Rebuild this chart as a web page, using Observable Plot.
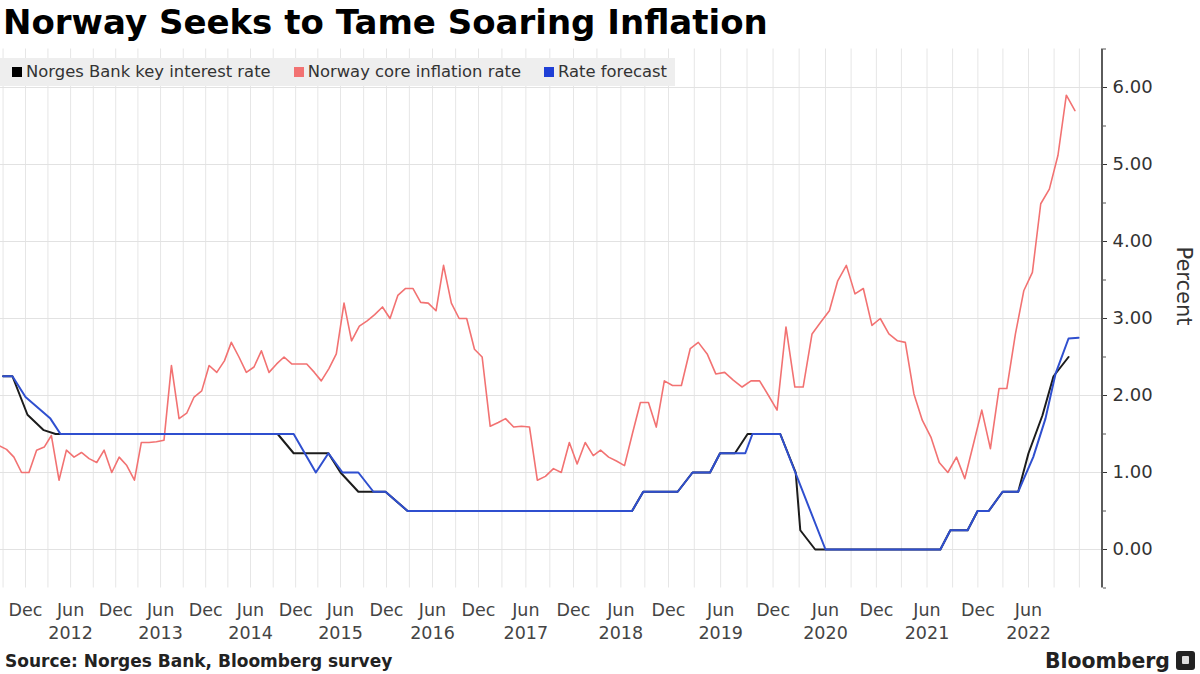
<!DOCTYPE html>
<html>
<head>
<meta charset="utf-8">
<script src="https://cdn.jsdelivr.net/npm/d3@7"></script>
<script src="https://cdn.jsdelivr.net/npm/@observablehq/plot@0.6"></script>
<style>
  html, body { margin: 0; padding: 0; background: #fff; }
  #wrap { position: relative; width: 1200px; height: 674px; overflow: hidden; font-family: "DejaVu Sans", sans-serif; background: #fff; }
  #title { position: absolute; left: 3px; top: 2px; font-size: 34px; font-weight: bold; line-height: 40px; color: #000; white-space: nowrap; }
  #chart { position: absolute; left: 0; top: 40px; }
  #legend { position: absolute; left: 0; top: 58px; width: 675px; height: 28px; background: #eeeeee; z-index: 2; display: flex; align-items: center; padding-left: 12px; box-sizing: border-box; }
  .item { display: flex; align-items: center; margin-right: 23px; }
  .sw { width: 10px; height: 10px; margin-right: 4px; }
  .lt { font-size: 16.4px; color: #333; white-space: nowrap; line-height: 28px; }
  #source { position: absolute; left: 5px; top: 650px; font-size: 17px; font-weight: bold; color: #222; line-height: 22px; white-space: nowrap; }
  #brand { position: absolute; left: 1045px; top: 648px; font-size: 20.4px; font-weight: bold; color: #222; line-height: 26px; white-space: nowrap; }
  #logo { position: absolute; left: 1176px; top: 651px; width: 19px; height: 19px; background: #222; border-radius: 3px; }
  #logo span { position: absolute; left: 6px; top: 5px; width: 7px; height: 8px; background: #fff; border-radius: 1px; opacity: 0.85; }
</style>
</head>
<body>
<div id="wrap">
  <div id="title">Norway Seeks to Tame Soaring Inflation</div>
  <div id="chart"></div>
  <div id="legend"></div>
  <div id="source">Source: Norges Bank, Bloomberg survey</div>
  <div id="brand">Bloomberg</div>
  <div id="logo"><span></span></div>
</div>
<script>
// ---------------- DATA ----------------
const seriesNames = ["Norges Bank key interest rate", "Norway core inflation rate", "Rate forecast"];
const seriesColors = ["#1c1c1c", "#f27272", "#2f4fcf"];

// Norges Bank key interest rate (vertices)
const keyRateDates = ["2011-09-01","2011-10-09","2011-12-09","2012-02-13","2012-04-01","2014-09-19","2014-11-23","2015-04-13","2015-06-01","2015-08-11","2015-11-27","2016-02-23","2018-07-14","2018-08-26","2019-01-02","2019-02-23","2019-04-25","2019-05-30","2019-07-21","2019-09-03","2019-12-26","2020-02-18","2020-03-05","2020-04-26","2021-07-19","2021-08-24","2021-10-25","2021-11-30","2022-01-09","2022-02-28","2022-04-25","2022-06-01","2022-07-21","2022-08-30","2022-10-23"];
const keyRateValues = [2.25,2.25,1.75,1.55,1.5,1.5,1.25,1.25,1.0,0.75,0.75,0.5,0.5,0.75,0.75,1.0,1.0,1.25,1.25,1.5,1.5,1.0,0.25,0,0,0.25,0.25,0.5,0.5,0.75,0.75,1.25,1.74,2.25,2.5];

// Rate forecast (Bloomberg survey)
const forecastDates = ["2011-09-01","2011-10-09","2011-12-01","2012-03-11","2012-04-21","2014-11-23","2015-02-21","2015-04-13","2015-06-09","2015-08-11","2015-10-10","2015-11-27","2016-02-23","2018-07-14","2018-08-26","2019-01-02","2019-02-23","2019-04-25","2019-05-30","2019-08-26","2019-09-20","2019-12-26","2020-06-01","2021-07-19","2021-08-24","2021-10-25","2021-11-30","2022-01-09","2022-02-28","2022-04-25","2022-05-13","2022-06-18","2022-08-01","2022-09-06","2022-10-23","2022-11-28"];
const forecastValues = [2.25,2.25,1.98,1.7,1.5,1.5,1.0,1.25,1.0,1.0,0.75,0.75,0.5,0.5,0.75,0.75,1.0,1.0,1.25,1.25,1.5,1.5,0,0,0.25,0.25,0.5,0.5,0.75,0.75,0.9,1.2,1.7,2.28,2.74,2.75];

// Norway core inflation rate, monthly (first month: Aug 2011)
const inflationStart = "2011-08";
const inflation2011 = [1.35, 1.3, 1.2, 1.0, 1.0];
const inflation2012 = [1.29, 1.33, 1.48, 0.9, 1.29, 1.2, 1.26, 1.18, 1.13, 1.29, 1.0, 1.2];
const inflation2013 = [1.09, 0.9, 1.39, 1.39, 1.4, 1.42, 2.39, 1.7, 1.77, 1.98, 2.06, 2.39];
const inflation2014 = [2.3, 2.45, 2.69, 2.5, 2.3, 2.37, 2.58, 2.3, 2.41, 2.5, 2.41, 2.41];
const inflation2015 = [2.41, 2.3, 2.19, 2.35, 2.54, 3.2, 2.71, 2.9, 2.97, 3.05, 3.15, 3.0];
const inflation2016 = [3.3, 3.39, 3.39, 3.21, 3.2, 3.1, 3.69, 3.2, 3.0, 3.0, 2.6, 2.5];
const inflation2017 = [1.6, 1.65, 1.7, 1.59, 1.6, 1.59, 0.9, 0.95, 1.05, 1.0, 1.39, 1.11];
const inflation2018 = [1.39, 1.22, 1.29, 1.2, 1.15, 1.09, 1.5, 1.91, 1.91, 1.59, 2.19, 2.13];
const inflation2019 = [2.13, 2.61, 2.69, 2.54, 2.28, 2.3, 2.2, 2.11, 2.19, 2.19, 2.0, 1.81];
const inflation2020 = [2.89, 2.11, 2.11, 2.8, 2.95, 3.1, 3.49, 3.69, 3.32, 3.39, 2.91, 3.0];
const inflation2021 = [2.8, 2.71, 2.69, 2.02, 1.68, 1.46, 1.13, 1.0, 1.2, 0.92, 1.37, 1.81];
const inflation2022 = [1.31, 2.09, 2.09, 2.8, 3.36, 3.6, 4.49, 4.68, 5.12, 5.9, 5.7];

// Axis ticks
const xTickDates = ["2011-12-01","2012-06-01","2012-12-01","2013-06-01","2013-12-01","2014-06-01","2014-12-01","2015-06-01","2015-12-01","2016-06-01","2016-12-01","2017-06-01","2017-12-01","2018-06-01","2018-12-01","2019-06-01","2019-12-01","2020-06-01","2020-12-01","2021-06-01","2021-12-01","2022-06-01"];
const xTickLabels = ["Dec","Jun","Dec","Jun","Dec","Jun","Dec","Jun","Dec","Jun","Dec","Jun","Dec","Jun","Dec","Jun","Dec","Jun","Dec","Jun","Dec","Jun"];
const yearTickDates = ["2012-06-01","2013-06-01","2014-06-01","2015-06-01","2016-06-01","2017-06-01","2018-06-01","2019-06-01","2020-06-01","2021-06-01","2022-06-01"];
const yearTickLabels = ["2012","2013","2014","2015","2016","2017","2018","2019","2020","2021","2022"];
const yTicks = [0, 1, 2, 3, 4, 5, 6];
const yMinorTicks = [-0.5, 0.5, 1.5, 2.5, 3.5, 4.5, 5.5, 6.5];

// ---------------- BUILD ----------------
const parse = s => new Date(s + "T00:00:00Z");

const keyRate = keyRateDates.map((d, i) => ({date: parse(d), value: keyRateValues[i]}));
const forecast = forecastDates.map((d, i) => ({date: parse(d), value: forecastValues[i]}));
const inflationValues = [inflation2011, inflation2012, inflation2013, inflation2014, inflation2015, inflation2016,
  inflation2017, inflation2018, inflation2019, inflation2020, inflation2021, inflation2022].flat();
const infStart = parse(inflationStart + "-01");
const inflation = inflationValues.map((v, i) => ({date: d3.utcDay.offset(d3.utcMonth.offset(infStart, i), 14), value: v}));

const monthLabelMap = new Map(xTickDates.map((d, i) => [parse(d).getTime(), xTickLabels[i]]));
const yearLabelMap = new Map(yearTickDates.map((d, i) => [parse(d).getTime(), yearTickLabels[i]]));
const gridDates = d3.utcMonths(parse("2011-09-01"), parse("2023-01-01")).filter(d => d.getUTCMonth() % 3 === 2);

// legend
const legend = document.getElementById("legend");
seriesNames.forEach((name, i) => {
  const item = document.createElement("div");
  item.className = "item";
  const sw = document.createElement("div");
  sw.className = "sw";
  sw.style.background = i === 0 ? "#000" : (i === 2 ? "#1f3fd6" : seriesColors[i]);
  const t = document.createElement("div");
  t.className = "lt";
  t.textContent = name;
  item.appendChild(sw); item.appendChild(t);
  legend.appendChild(item);
});

const axisLine = (index, scales, values, dims) => {
  const x = dims.width - dims.marginRight;
  const l = document.createElementNS("http://www.w3.org/2000/svg", "line");
  l.setAttribute("x1", x); l.setAttribute("x2", x);
  l.setAttribute("y1", dims.marginTop); l.setAttribute("y2", dims.height - dims.marginBottom);
  l.setAttribute("stroke", "#333"); l.setAttribute("stroke-width", "1.6");
  return l;
};

const chart = Plot.plot({
  width: 1200,
  height: 610,
  marginTop: 8.5,
  marginBottom: 62.5,
  marginLeft: 0,
  marginRight: 98,
  style: {fontFamily: "DejaVu Sans, sans-serif", fontSize: "18px", background: "transparent"},
  x: {
    type: "utc",
    domain: ["2011-12-01","2015-06-01","2016-12-01","2018-12-01","2020-06-01","2022-06-01"].map(parse),
    range: [25, 340, 478, 668, 825, 1028]
  },
  y: {domain: [-0.5, 6.5]},
  marks: [
    Plot.gridX({ticks: gridDates, stroke: "#e6e6e6", strokeOpacity: 1, strokeWidth: 1}),
    Plot.gridY({ticks: yTicks, stroke: "#e2e2e2", strokeOpacity: 1, strokeWidth: 1}),
    Plot.line(inflation, {x: "date", y: "value", stroke: seriesColors[1], strokeWidth: 1.6, clip: true}),
    Plot.line(keyRate, {x: "date", y: "value", stroke: seriesColors[0], strokeWidth: 2, clip: true}),
    Plot.line(forecast, {x: "date", y: "value", stroke: seriesColors[2], strokeWidth: 2, clip: true}),
    Plot.axisX({ticks: xTickDates.map(parse), tickFormat: d => monthLabelMap.get(d.getTime()), tickSize: 0, tickPadding: 16, fontSize: 17.5, color: "#444", label: null}),
    Plot.axisX({ticks: yearTickDates.map(parse), tickFormat: d => yearLabelMap.get(d.getTime()), tickSize: 0, tickPadding: 38.5, fontSize: 17.5, color: "#444", label: null}),
    Plot.axisY({anchor: "right", ticks: yTicks, tickFormat: d3.format(".2f"), tickSize: 4, tickPadding: 6, fontSize: 18, color: "#333", label: null}),
    Plot.axisY({anchor: "right", ticks: yMinorTicks, tickFormat: () => "", tickSize: 3, color: "#555", label: null}),
    Plot.text(["Percent"], {frameAnchor: "right", text: d => d, rotate: 90, dx: 81, dy: 7, fontSize: 21, fill: "#333"}),
    axisLine
  ]
});
document.getElementById("chart").appendChild(chart);
</script>
</body>
</html>
